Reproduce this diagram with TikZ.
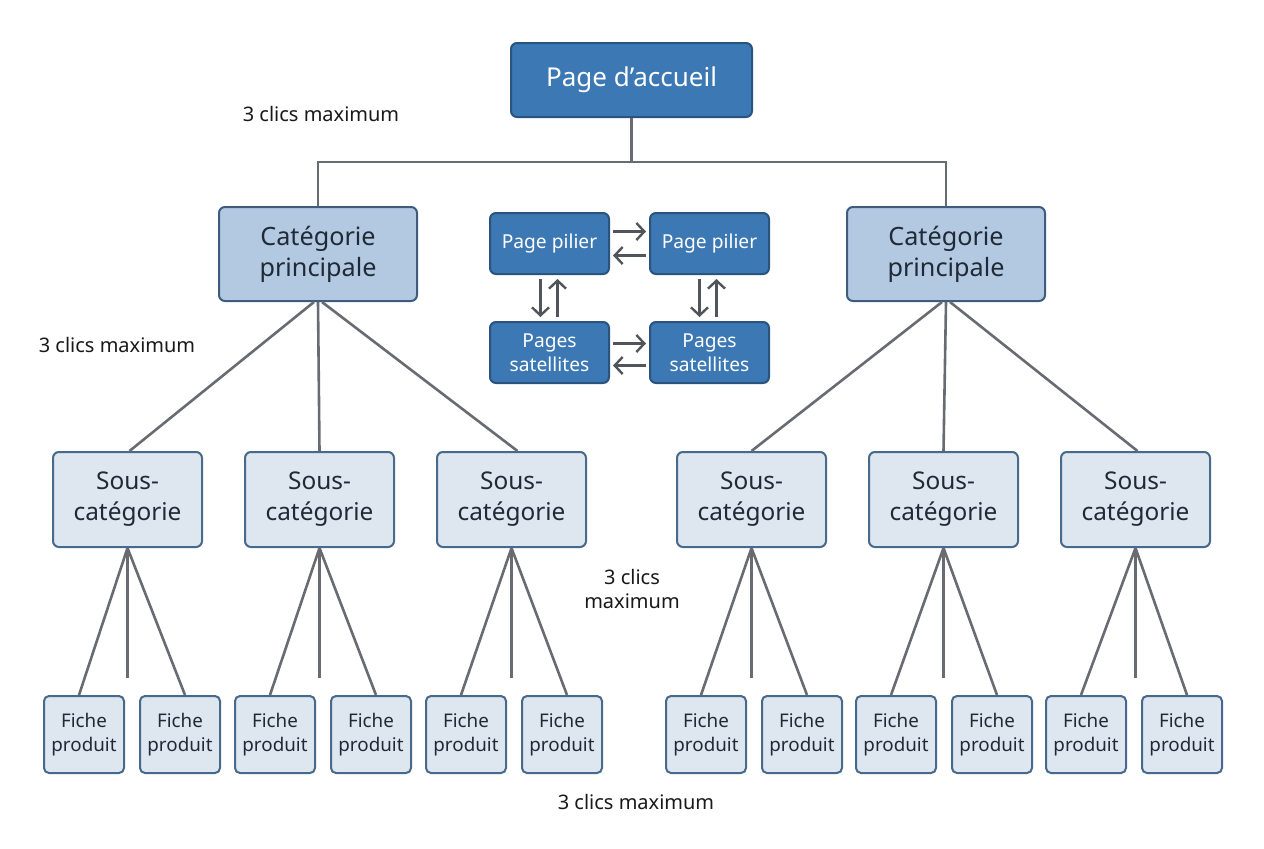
\documentclass[tikz,border=0pt]{standalone}
\usepackage{fontspec}
\setmainfont{Noto Sans}
\usetikzlibrary{arrows.meta,calc}
\definecolor{homefill}{HTML}{3C78B4}
\definecolor{homeborder}{HTML}{2A5480}
\definecolor{catfill}{HTML}{B3C9E2}
\definecolor{catborder}{HTML}{3E5D7E}
\definecolor{sousfill}{HTML}{DEE7F0}
\definecolor{sousborder}{HTML}{46698C}
\definecolor{linegray}{HTML}{686C72}
\definecolor{arrgray}{HTML}{50555B}
\definecolor{txtdark}{HTML}{1F2A36}
\tikzset{
  homebox/.style={draw=homeborder, fill=homefill, rounded corners=3pt, line width=1pt, inner sep=0pt,
    minimum width=120.5pt, minimum height=37pt, text=white, font=\fontsize{13}{15}\selectfont},
  catbox/.style={draw=catborder, fill=catfill, rounded corners=3pt, line width=1pt, inner sep=0pt, align=center,
    minimum width=99pt, minimum height=47pt, text=txtdark, font=\fontsize{12.6}{15.5}\selectfont},
  pilbox/.style={draw=homeborder, fill=homefill, rounded corners=3pt, line width=1pt, inner sep=0pt, align=center,
    minimum width=59.5pt, minimum height=30.5pt, text=white, font=\fontsize{9.6}{12}\selectfont},
  sousbox/.style={draw=sousborder, fill=sousfill, rounded corners=3pt, line width=1pt, inner sep=0pt, align=center,
    minimum width=74.5pt, minimum height=47.5pt, text=txtdark, font=\fontsize{12.2}{15.5}\selectfont},
  fichebox/.style={draw=sousborder, fill=sousfill, rounded corners=2.5pt, line width=1pt, inner sep=0pt, align=center,
    minimum width=40pt, minimum height=38.5pt, text=txtdark, font=\fontsize{9.4}{12}\selectfont},
  link/.style={draw=linegray, line width=1.3pt},
  parr/.style={draw=arrgray, line width=1.2pt, -{Straight Barb[length=4pt,width=8.5pt]}},
  clicslabel/.style={text=black!90, font=\fontsize{10}{12}\selectfont, align=center}
}
\begin{document}
\begin{tikzpicture}[x=0.5pt,y=-0.5pt]
\useasboundingbox (0,0) rectangle (1264,848);
\fill[white] (0,0) rectangle (1264,848);

% top level
\node[homebox] (home) at (631.5,80) {Page d’accueil};
\node[catbox] (catL) at (318,254) {Catégorie\\principale};
\node[catbox] (catR) at (946,254) {Catégorie\\principale};

\coordinate (junc) at (631.5,162);
\draw[link] (home.south) -- (junc);
\draw[link] (junc) -| (catL.north);
\draw[link] (junc) -| (catR.north);

% pillar cluster
\node[pilbox] (p1) at (549.5,243.5) {Page pilier};
\node[pilbox] (p2) at (709.5,243.5) {Page pilier};
\node[pilbox] (p3) at (549.5,352.5) {Pages\\satellites};
\node[pilbox] (p4) at (709.5,352.5) {Pages\\satellites};

\draw[parr] ([xshift=1.5pt,yshift=6pt]p1.east) -- ([xshift=-1.5pt,yshift=6pt]p2.west);
\draw[parr] ([xshift=-1.5pt,yshift=-6pt]p2.west) -- ([xshift=1.5pt,yshift=-6pt]p1.east);
\draw[parr] ([xshift=1.5pt,yshift=4.5pt]p3.east) -- ([xshift=-1.5pt,yshift=4.5pt]p4.west);
\draw[parr] ([xshift=-1.5pt,yshift=-6.5pt]p4.west) -- ([xshift=1.5pt,yshift=-6.5pt]p3.east);
\draw[parr] ([xshift=-4.5pt,yshift=-2pt]p1.south) -- ([xshift=-4.5pt,yshift=2pt]p3.north);
\draw[parr] ([xshift=4pt,yshift=2pt]p3.north) -- ([xshift=4pt,yshift=-2pt]p1.south);
\draw[parr] ([xshift=-5pt,yshift=-2pt]p2.south) -- ([xshift=-5pt,yshift=2pt]p4.north);
\draw[parr] ([xshift=3.5pt,yshift=2pt]p4.north) -- ([xshift=3.5pt,yshift=-2pt]p2.south);

% sous-categories
\foreach \n/\x in {1/127.5,2/319.5,3/511.5,4/751.5,5/943.5,6/1135.5}{
  \node[sousbox] (s\n) at (\x,499.5) {Sous-\\catégorie};
}
\draw[link] ([xshift=-2pt]catL.south) -- ([xshift=1pt]s1.north);
\draw[link] (catL.south) -- (s2.north);
\draw[link] ([xshift=2pt]catL.south) -- ([xshift=3pt]s3.north);
\draw[link] ([xshift=-2pt]catR.south) -- (s4.north);
\draw[link] (catR.south) -- (s5.north);
\draw[link] ([xshift=2pt]catR.south) -- ([xshift=1pt]s6.north);

% fiches produit
\foreach \n/\a/\b in {1/84/180,2/275/371,3/466/562,4/706/802,5/896/992,6/1086/1182}{
  \node[fichebox] (f\n a) at (\a,734.5) {Fiche\\produit};
  \node[fichebox] (f\n b) at (\b,734.5) {Fiche\\produit};
  \coordinate (m\n) at ($(s\n.south)+(0,130)$);
  \draw[link] (s\n.south) -- ([xshift=-2.5pt]f\n a.north);
  \draw[link] (s\n.south) -- (m\n);
  \draw[link] (s\n.south) -- ([xshift=2.5pt]f\n b.north);
}

% labels
\node[clicslabel] (l1) at (321,114) {3 clics maximum};
\node[clicslabel] (l2) at (117,345) {3 clics maximum};
\node[clicslabel] (l3) at (632,589) {3 clics\\maximum};
\node[clicslabel] (l4) at (636,802) {3 clics maximum};
\end{tikzpicture}
\end{document}
